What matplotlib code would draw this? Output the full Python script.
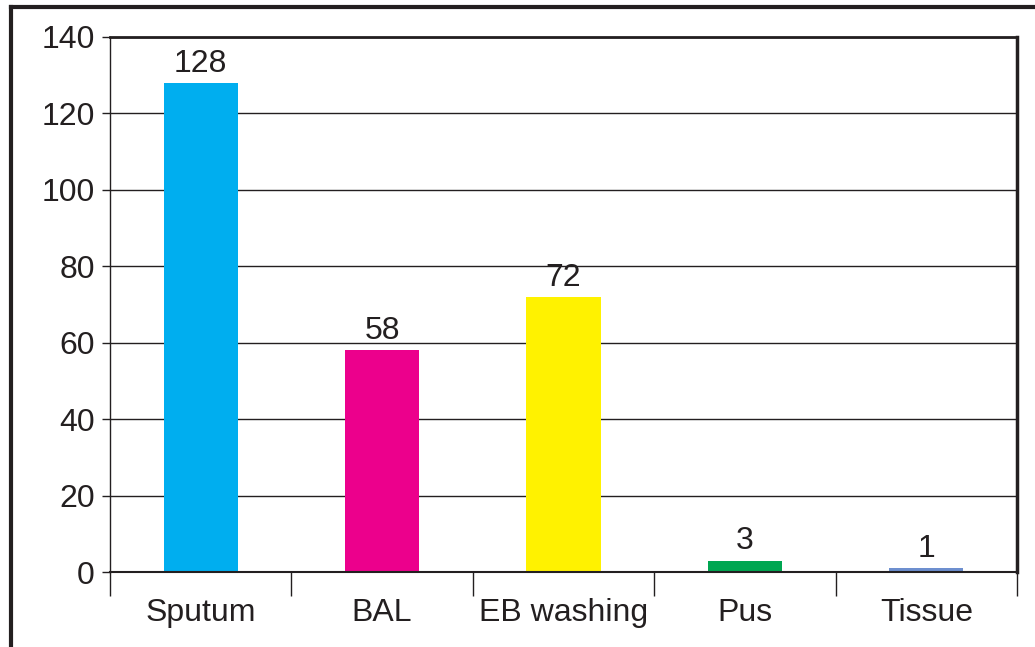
import numpy as np
import matplotlib.pyplot as plt
from matplotlib.lines import Line2D

plt.rcParams['font.family'] = ['Liberation Sans', 'DejaVu Sans']

categories = ['Sputum', 'BAL', 'EB washing', 'Pus', 'Tissue']
counts = [128, 58, 72, 3, 1]
colors = ['#00AEEF', '#EC008C', '#FFF200', '#00A651', '#6D8FCF']

ink = '#231F20'
fig = plt.figure(figsize=(10.35, 6.47), dpi=100)
ax = fig.add_axes([110/1035, 1 - 572/647, (1017-110)/1035, (572-37)/647])

xs = np.arange(len(categories))
bars = ax.bar(xs, counts, width=0.41, color=colors, zorder=3)
for x, v in zip(xs, counts):
    ax.annotate(str(v), (x, v), xytext=(0, 3), textcoords='offset points',
                ha='center', va='bottom', fontsize=23, color=ink)

ax.set_xlim(-0.5, len(categories) - 0.5)
ax.set_ylim(0, 140)
ax.set_yticks(np.arange(0, 141, 20))
ax.yaxis.grid(True, color=ink, linewidth=1.0, zorder=0)
ax.tick_params(axis='y', labelsize=23, length=6, width=1, color=ink,
               labelcolor=ink, pad=5)

# category labels centred, tick marks on the boundaries
ax.set_xticks(np.arange(-0.5, len(categories), 1.0))
ax.set_xticklabels([])
ax.set_xticks(xs, minor=True)
ax.set_xticklabels(categories, minor=True)
ax.tick_params(axis='x', which='major', length=17, width=1, color=ink)
ax.tick_params(axis='x', which='minor', length=0, labelsize=23,
               labelcolor=ink, pad=19)

ax.spines['left'].set_linewidth(1.0)
ax.spines['bottom'].set_linewidth(1.5)
ax.spines['top'].set_linewidth(2.0)
ax.spines['right'].set_linewidth(2.5)
for s in ax.spines.values():
    s.set_color(ink)
    s.set_zorder(4)

# outer frame, cropped at right and bottom
fig.add_artist(Line2D([11/1035, 11/1035], [0, 1 - 7/647], color=ink,
                      linewidth=3, transform=fig.transFigure))
fig.add_artist(Line2D([11/1035, 1], [1 - 7/647, 1 - 7/647], color=ink,
                      linewidth=3, transform=fig.transFigure))

fig.savefig('out.png', dpi=100)
